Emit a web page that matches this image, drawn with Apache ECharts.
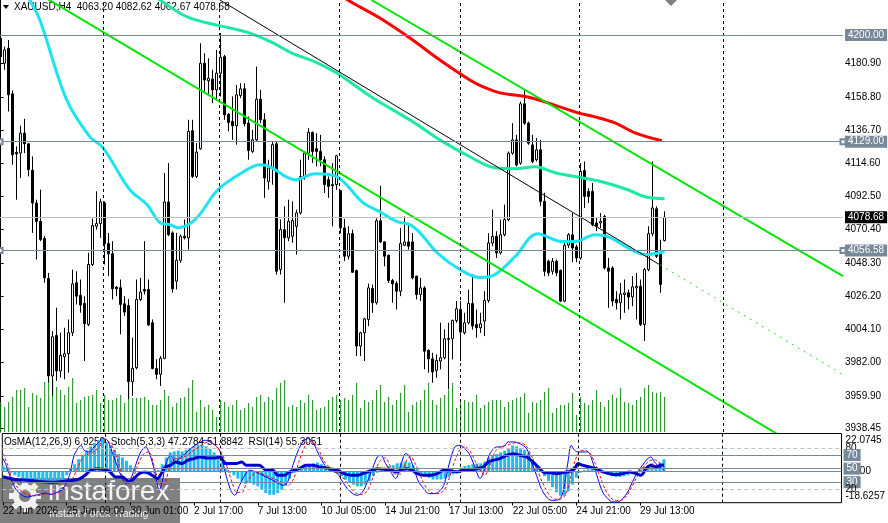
<!DOCTYPE html>
<html>
<head>
<meta charset="utf-8">
<title>XAUUSD,H4</title>
<script src="https://cdn.jsdelivr.net/npm/echarts@6/dist/echarts.min.js"></script>
<style>
  html, body { margin: 0; padding: 0; background: #fff; }
  #chart { width: 888px; height: 523px; }
</style>
</head>
<body>
<div id="chart"></div>
<script>
// H4 candles, one entry per bar (bar 0 = 22 Jun 17:00)
const opens = [
  4197.8, 4181.2, 4191.2, 4160.8, 4121.9, 4121.4, 4134.7, 4127.6, 4110.0, 4088.2,
  4076.0, 4064.5, 4038.0, 3973.1, 4000.0, 3976.4, 3985.9, 3987.9, 4001.9, 4035.1,
  4026.7, 4021.4, 4007.4, 4047.3, 4072.7, 4074.5, 4088.2, 4061.2, 4054.4, 4032.2,
  4031.8, 4021.1, 4020.0, 3969.3, 3978.6, 4024.0, 4030.7, 4030.7, 4008.5, 3978.0,
  3974.2, 3984.8, 4088.9, 4068.3, 4036.2, 4050.1, 4066.1, 4065.0, 4136.3, 4105.9,
  4124.3, 4181.2, 4169.5, 4170.6, 4163.5, 4174.6, 4185.6, 4147.3, 4142.5, 4139.6,
  4159.7, 4164.2, 4141.4, 4122.5, 4130.3, 4157.3, 4143.6, 4102.6, 4111.5, 4127.6,
  4043.9, 4070.5, 4065.0, 4066.1, 4072.7, 4081.6, 4105.9, 4121.4, 4135.2, 4124.3,
  4122.5, 4117.0, 4103.7, 4100.4, 4100.4, 4096.4, 4071.6, 4052.8, 4067.8, 4043.2,
  3993.0, 4001.8, 4010.7, 4031.3, 4021.8, 4076.4, 4062.3, 4053.4, 4036.6, 4034.6,
  4029.5, 4060.1, 4062.3, 4062.3, 4039.5, 4027.3, 4031.7, 3990.1, 3984.5, 3976.8,
  3983.0, 3985.2, 3997.4, 3997.9, 4010.0, 4017.3, 4001.8, 4008.5, 4021.3, 4007.4,
  4005.2, 4009.6, 4023.3, 4061.6, 4066.0, 4055.0, 4067.1, 4077.1, 4121.4, 4130.2,
  4114.7, 4154.2, 4141.3, 4126.9, 4117.0, 4123.6, 4089.3, 4049.4, 4042.8, 4049.4,
  4043.4, 4022.9, 4060.1, 4067.1, 4059.0, 4051.6, 4109.9, 4095.9, 4095.9, 4074.9,
  4074.9, 4079.3, 4045.0, 4045.0, 4024.0, 4021.8, 4027.3, 4028.4, 4025.7, 4031.7,
  4032.8, 4007.4, 4043.9, 4067.8, 4084.4, 4055.0, 4063.20
];
const closes = [
  4185.6, 4190.1, 4160.2, 4120.3, 4120.8, 4134.7, 4127.6, 4110.4, 4088.2, 4076.0,
  4063.9, 4038.4, 3973.1, 3999.2, 3976.4, 3986.8, 3987.9, 4001.9, 4034.4, 4026.2,
  4020.3, 4007.9, 4047.3, 4073.2, 4074.5, 4088.9, 4061.2, 4054.4, 4031.1, 4031.1,
  4020.7, 4015.6, 3969.3, 3978.2, 4024.0, 4028.9, 4029.6, 4007.0, 3978.0, 3974.2,
  3984.8, 4088.9, 4067.2, 4031.1, 4050.1, 4066.1, 4065.0, 4135.8, 4105.9, 4122.1,
  4181.2, 4170.1, 4171.3, 4163.5, 4174.6, 4185.2, 4146.9, 4141.8, 4139.6, 4160.2,
  4164.2, 4140.9, 4123.2, 4130.3, 4157.3, 4143.6, 4104.8, 4111.5, 4127.0, 4042.8,
  4070.5, 4065.0, 4076.0, 4076.5, 4081.6, 4105.9, 4121.4, 4135.2, 4122.5, 4122.5,
  4117.0, 4100.4, 4099.3, 4099.7, 4119.6, 4071.6, 4052.8, 4067.8, 4042.1, 3993.0,
  4001.8, 4011.1, 4031.7, 4021.8, 4076.4, 4062.3, 4052.8, 4036.6, 4034.4, 4029.5,
  4061.2, 4062.3, 4059.4, 4038.4, 4027.3, 4031.7, 3989.6, 3984.5, 3975.7, 3983.4,
  3985.2, 3997.9, 3998.1, 4010.0, 4017.8, 4002.3, 4008.5, 4021.3, 4006.3, 4005.2,
  4007.8, 4023.3, 4061.6, 4066.0, 4055.0, 4067.1, 4077.1, 4121.4, 4130.2, 4113.6,
  4154.2, 4141.3, 4128.0, 4115.8, 4123.6, 4089.3, 4042.8, 4041.7, 4049.4, 4041.7,
  4022.9, 4060.1, 4067.1, 4058.3, 4051.6, 4109.2, 4092.6, 4092.6, 4073.8, 4072.7,
  4076.0, 4045.0, 4042.8, 4022.9, 4021.8, 4027.7, 4028.4, 4025.7, 4032.4, 4032.8,
  4007.4, 4043.9, 4067.8, 4084.9, 4052.8, 4034.0, 4078.68
];
const lows = [
  4181.0, 4176.8, 4149.1, 4113.7, 4090.4, 4104.8, 4121.4, 4105.9, 4068.3, 4050.6,
  4062.8, 4035.1, 3968.7, 3959.8, 3969.8, 3972.0, 3970.9, 3975.3, 3999.7, 4020.7,
  4015.2, 3983.1, 4006.3, 4046.2, 4070.5, 4065.0, 4047.3, 4039.5, 4024.0, 4026.2,
  4000.8, 4013.0, 3957.6, 3959.8, 3977.5, 4022.9, 4027.3, 4006.3, 3977.5, 3970.9,
  3966.5, 3984.2, 4066.1, 4028.5, 4030.7, 4048.4, 4063.9, 4057.2, 4104.8, 4104.8,
  4123.7, 4162.4, 4160.2, 4154.6, 4156.9, 4159.1, 4143.6, 4135.8, 4130.3, 4127.0,
  4158.0, 4139.1, 4117.0, 4121.4, 4129.2, 4141.4, 4091.6, 4097.1, 4100.4, 4040.6,
  4040.6, 4021.8, 4062.8, 4061.7, 4053.9, 4080.5, 4103.7, 4117.0, 4114.8, 4112.6,
  4112.6, 4094.9, 4091.6, 4072.7, 4097.0, 4068.0, 4049.5, 4050.6, 4041.7, 3986.3,
  3986.3, 3983.0, 4006.3, 4015.1, 4020.6, 4061.6, 4046.1, 4035.0, 4021.8, 4017.3,
  4026.2, 4059.4, 4057.2, 4037.3, 4024.0, 4022.9, 3977.5, 3975.3, 3968.6, 3971.9,
  3977.5, 3984.1, 3964.2, 3984.1, 4008.5, 3983.0, 4000.7, 4007.4, 4004.0, 3998.5,
  4001.8, 3999.6, 4021.8, 4059.4, 4051.6, 4053.9, 4066.0, 4076.0, 4120.3, 4112.5,
  4113.6, 4140.2, 4126.9, 4114.7, 4115.8, 4086.0, 4039.5, 4039.5, 4040.6, 4039.5,
  4022.2, 4022.2, 4058.3, 4048.8, 4048.8, 4050.5, 4084.9, 4088.2, 4072.7, 4069.4,
  4071.6, 4043.9, 4018.4, 4019.5, 4017.3, 4010.7, 4015.1, 4017.3, 4019.5, 4010.7,
  4006.3, 3996.3, 4042.8, 4066.0, 4051.6, 4028.4, 4062.67
];
const highs = [
  4199.0, 4192.3, 4196.7, 4163.1, 4125.9, 4139.6, 4144.2, 4128.1, 4119.2, 4090.4,
  4097.1, 4066.1, 4041.7, 4003.0, 4018.5, 4001.9, 4005.2, 4010.7, 4043.9, 4042.8,
  4037.3, 4026.2, 4055.0, 4077.8, 4096.0, 4091.1, 4089.3, 4068.3, 4062.8, 4032.9,
  4037.3, 4026.2, 4024.4, 3998.6, 4037.3, 4038.4, 4062.8, 4037.3, 4010.7, 3984.2,
  3986.4, 4108.2, 4114.8, 4069.4, 4068.3, 4067.2, 4077.2, 4143.6, 4143.6, 4128.1,
  4194.5, 4187.9, 4184.5, 4176.8, 4190.1, 4201.3, 4186.8, 4148.0, 4159.1, 4166.8,
  4167.9, 4167.9, 4145.8, 4136.9, 4179.0, 4163.5, 4148.0, 4117.0, 4129.2, 4129.2,
  4077.2, 4086.0, 4090.4, 4089.3, 4083.8, 4117.0, 4122.5, 4138.0, 4135.8, 4134.7,
  4133.6, 4119.2, 4105.9, 4114.7, 4120.3, 4097.0, 4077.6, 4072.7, 4070.5, 4043.9,
  4002.5, 4011.8, 4034.6, 4033.9, 4078.0, 4099.7, 4062.7, 4053.9, 4037.7, 4036.2,
  4071.6, 4079.3, 4074.9, 4068.2, 4039.9, 4038.4, 4032.8, 3990.8, 3988.5, 3987.4,
  4008.5, 4004.1, 4008.5, 4010.7, 4022.9, 4022.9, 4015.1, 4030.6, 4040.6, 4017.3,
  4015.1, 4029.5, 4068.2, 4083.8, 4069.4, 4077.1, 4087.1, 4122.5, 4141.3, 4133.6,
  4155.7, 4163.5, 4142.4, 4133.6, 4131.4, 4130.2, 4095.0, 4050.5, 4051.6, 4050.5,
  4043.9, 4061.6, 4068.2, 4081.5, 4060.5, 4114.7, 4115.8, 4098.0, 4101.5, 4078.2,
  4081.5, 4080.4, 4051.6, 4046.1, 4029.5, 4035.0, 4037.3, 4030.6, 4039.5, 4041.7,
  4037.3, 4045.0, 4072.7, 4115.8, 4086.0, 4063.8, 4082.62
];
// tick volume (thousands)
const volumes = [
  30, 25, 30, 35, 42, 42, 44, 25, 39, 37, 34, 50, 54, 53, 45, 42, 37, 45, 54, 29,
  32, 35, 36, 37, 42, 29, 37, 32, 32, 34, 37, 29, 49, 34, 34, 34, 35, 32, 27, 27,
  32, 42, 36, 25, 29, 34, 35, 44, 52, 20, 32, 25, 27, 22, 15, 32, 30, 25, 27, 32,
  22, 24, 29, 25, 35, 37, 30, 35, 32, 44, 49, 52, 25, 27, 25, 32, 29, 37, 32, 22,
  24, 25, 32, 35, 37, 32, 34, 32, 37, 49, 24, 32, 30, 32, 42, 47, 30, 35, 27, 32,
  39, 47, 20, 27, 30, 32, 42, 49, 32, 27, 34, 37, 42, 49, 24, 30, 32, 30, 30, 37,
  24, 27, 30, 32, 32, 32, 25, 30, 32, 34, 35, 39, 19, 30, 29, 32, 40, 44, 19, 24,
  27, 27, 29, 39, 17, 35, 29, 27, 32, 42, 30, 25, 32, 37, 34, 44, 30, 29, 27, 32,
  35, 44, 47, 40, 39, 40, 35
];

// moving averages: [bar, price]
const maFast = [
  [0, 4262], [7.3, 4223.3], [9.8, 4210], [16.5, 4156.8], [22.3, 4132.2], [25.6, 4124.9],
  [32.3, 4097], [36.6, 4087.1], [39.8, 4075.1], [42.3, 4073.8], [44.3, 4071.8], [48.6, 4077.1],
  [54.3, 4097], [60.3, 4108.3], [64.8, 4113.6], [67.3, 4112.3], [73.6, 4103.7], [78.6, 4107.7],
  [83.6, 4106.3], [90.6, 4088.4], [94.8, 4082.4], [99.1, 4075.8], [102.3, 4073.8], [104.8, 4068.5],
  [109.1, 4055.2], [114.8, 4043.9], [119.8, 4038.6], [123.6, 4040.6], [128.6, 4052.5], [134.3, 4067.8],
  [140.3, 4062.5], [143.6, 4062.5], [148.6, 4067.1], [151.8, 4065.8], [158.6, 4055.8], [161.1, 4053.9],
  [166, 4055.8]
];
const maMid = [
  [30, 4240], [39.8, 4223.3], [46.6, 4212], [54.1, 4206.6], [62.3, 4201.3], [68.1, 4194.7],
  [72.8, 4188], [78.6, 4182.1], [83.6, 4175.4], [86.6, 4170.1], [93.1, 4158.1], [103.1, 4142.2],
  [109.8, 4130.2], [117.3, 4119], [123.6, 4111.6], [128.6, 4111], [133.6, 4112.3], [138.6, 4108.3],
  [145.3, 4105], [150.3, 4102.3], [156.8, 4097], [161.1, 4092.4], [166, 4091.1]
];
const maSlow = [
  [80, 4236], [86.8, 4223.3], [94.8, 4211.3], [102.3, 4198.0], [109.8, 4183.4], [117.3, 4170.1],
  [120.6, 4165.5], [124.8, 4161.5], [131.8, 4158.8], [136.8, 4154.8], [144.3, 4148.2], [148.6, 4145.5],
  [153.6, 4141.5], [158.6, 4134.9], [165.3, 4129.6]
];

// drawn trend lines: [bar, price] end points
const trendLine = [[54.8, 4223.3], [164.8, 4047.1]];
const trendRay = [[164.8, 4047.1], [210.6, 3973.9]];
const channelLow = [[0, 4242.6], [200, 3925.2]];
const channelHigh = [[92.7, 4223.3], [210.6, 4039.6]];
const topLevel = 4200.00;
const levels = [4129.00, 4056.58];

// OsMA(12,26,9), one value per bar
const osma = [
  3, 2, -1, -2.5, -3.5, -4.5, -5, -5.5, -6, -6.5, -6.5, -7, -7, -6.5, -6, -5, -2.5,
  1.5, 4, 7, 9.5, 12, 14.5, 16.5, 18, 18.5, 17, 15, 12.5, 10, 8, 6, 3.5, 1.5,
  -0.5, -1.5, -2, -1.5, -1, 0.5,
  4, 8, 11, 11.5, 12, 11.5, 12.5, 13.5, 14.5, 15.5, 15.5, 14.5, 13, 11, 8, 5,
  1, -1, -2.5, -4.5, -6, -7.5, -7, -8, -9, -11, -13, -14, -14, -13, -11, -8.5, -4.5, -1,
  0.5, 1.5, 2.5, 3.5, 4.5, 5, 4, 2.5, 1.5, 0.5,
  -1.5, -3, -5, -6.5, -8, -9, -9, -8, -6, -3, -1,
  1, 2, 3, 3.5, 4.5, 5, 5.5, 5, 3.5, 1.5,
  -1.5, -3, -4, -5, -5, -5, -4.5, -3.5, -2,
  0.5, 2, 3, 3.5, 4, 4.5, 4.5, 5.5, 8, 9, 10, 11, 12, 13.5, 15, 14.5, 13.5, 12.5, 10.5, 7, 3.5, 1,
  -3, -6, -9.5, -12.5, -14.5, -14.5, -12, -8, -4, -1,
  0.5, 1, 1.5, 1, 0.5,
  -1, -2, -3, -3.5, -3.5, -3, -2.5, -1.5, -0.5,
  1, 2.5, 3.5, 4.5, 3.5, 5, 6.9259
];
// Stoch(5,3,3) main and signal, RSI(14): [bar, value]
const stochMain = [
  [0, 65], [0.8, 55], [1.7, 40], [3, 22], [4.5, 12], [6, 8], [7.5, 10], [9, 12], [10.5, 14], [12, 12],
  [13.5, 15], [15, 20], [16.7, 40], [17.9, 70], [19.6, 84], [20.4, 77], [21.7, 74.6], [22.9, 82],
  [24.2, 89.4], [25, 94.3], [26.2, 92], [27.1, 79.5], [28.3, 59.9], [29.6, 40.2], [30.8, 27.9],
  [32.1, 35.3], [33.3, 55], [34.6, 74.6], [35.8, 82], [37.1, 67.2], [38.3, 40.2], [39.2, 18.1],
  [40, 30.4], [40.8, 55], [42.1, 69.7], [43.3, 59.9], [44.6, 67], [45.8, 72.1], [47.1, 79.5],
  [48.3, 84.4], [49.6, 89.4], [50.8, 91.8], [52.1, 89.4], [53.3, 84.4], [54.6, 74.6], [55.8, 45.1],
  [57.2, 18], [58.2, 10.7], [59.4, 25.4], [60.7, 40.2], [61.9, 47.6], [63.6, 45], [65.3, 40],
  [66.9, 35.3], [68.6, 30.4], [70.3, 25.4], [71.5, 30.4], [72.8, 55], [74, 74.6], [75.3, 89.4],
  [76.5, 94.3], [77.8, 89.4], [79, 74.6], [80.3, 59.9], [81.5, 50], [82.8, 46], [84, 42.6],
  [85.3, 30.4], [86.5, 20.5], [87.8, 13.2], [89, 10.7], [90.3, 15.6], [91.5, 30.4], [92.8, 50],
  [94, 67.2], [94.9, 69.7], [96.1, 57.4], [97.4, 45.1], [98.6, 35.3], [99.9, 55], [101.1, 72.1],
  [101.9, 70], [103.2, 50], [104.4, 30.4], [105.7, 20.5], [106.9, 13.2], [108.2, 13.2], [109.4, 15.6],
  [110.7, 25.4], [112.2, 60], [113.5, 82], [114.8, 84.4], [116, 79.5], [117.3, 69.7], [118.5, 52.5],
  [119.8, 35.3], [121, 50], [122.3, 72.1], [124, 82], [125.6, 82], [126.9, 89.4], [128.1, 89.4],
  [129.8, 86.9], [131.5, 79.5], [132.7, 59.9], [134, 40.2], [135.2, 20.5], [136.5, 8.2], [137.7, 3.3],
  [139, 3.3], [140.2, 8.2], [141, 25.4], [141.9, 59.9], [142.7, 84.4], [143.6, 77], [144.4, 74.6],
  [145.6, 74.6], [146.9, 74.6], [148.1, 59.9], [149.4, 35.3], [150.6, 15.6], [151.9, 5.8], [153.1, 0.9],
  [154.4, 0.9], [155.6, 5.8], [156.9, 15.6], [158.1, 30.4], [159.4, 45.1], [160.6, 55], [161.9, 64.8],
  [162.7, 67.2], [163.6, 59.9], [164.4, 55], [165.6, 50], [166, 47.2784]
];
const stochSignal = [
  [0, 72], [1.2, 55], [2.5, 30.4], [3.7, 22], [5, 15], [6.5, 11], [8, 10], [9.5, 11], [11, 13],
  [12.5, 13], [14, 15], [15.5, 22], [16.5, 28], [17.5, 35.3], [19.2, 57.4], [20.4, 69.7], [21.7, 72.1],
  [23.3, 77], [25, 86.9], [26.5, 89.4], [27.9, 77], [29.2, 55], [30.4, 32.8], [31.7, 27.9], [32.9, 40.2],
  [34.2, 59.9], [35.4, 72.1], [36.7, 74.6], [37.9, 55], [39.2, 30.4], [40.4, 25.4], [41.7, 50],
  [42.9, 64.8], [44.2, 64.8], [45.4, 67.2], [46.7, 72.1], [47.9, 77], [49.2, 82], [50.4, 86.9],
  [51.7, 89.4], [52.9, 86.9], [54.2, 79.5], [55.4, 67.2], [56.7, 45.1], [57.5, 30], [58.7, 15],
  [60, 15], [61.2, 30], [62.5, 40], [64, 44], [66, 40], [68, 35], [70, 30], [71.5, 25], [73, 35],
  [74.3, 60], [75.6, 80], [76.8, 90], [78, 88], [79.3, 78], [80.5, 62], [82, 52], [83.3, 46],
  [84.6, 42], [86, 32], [87.3, 22], [88.6, 14], [89.8, 12], [91, 14], [92.3, 27], [93.5, 47],
  [94.8, 62], [96, 66], [97.2, 55], [98.5, 42], [99.8, 42], [101, 58], [102.3, 68], [103.5, 58],
  [104.8, 40], [106, 25], [107.3, 16], [108.5, 13], [109.8, 14], [111, 20], [112.3, 40], [113.5, 62],
  [114.8, 78], [116, 82], [117.3, 76], [118.5, 62], [119.8, 48], [121, 40], [122.3, 55], [123.5, 74],
  [124.8, 82], [126, 84], [127.3, 86], [128.5, 88], [130, 88], [131.3, 84], [132.5, 72], [133.8, 54],
  [135, 36], [136.3, 20], [137.5, 9], [138.8, 5], [140, 5], [141.3, 12], [142.5, 35], [143.7, 62],
  [145, 76], [146.2, 77], [147.5, 72], [148.7, 58], [150, 38], [151.2, 20], [152.5, 8], [153.7, 3],
  [155, 3], [156.2, 7], [157.5, 18], [158.7, 32], [160, 45], [161.2, 55], [162.5, 62], [163.7, 63],
  [165, 58], [166, 51.8842]
];
const rsi = [
  [0, 38], [3, 34], [6, 33], [9, 31], [12, 30], [15, 31], [16.7, 32], [19.2, 35], [20.8, 41],
  [22, 47.6], [23.8, 50], [25, 49], [26.7, 46], [28.3, 37.7], [30, 37.7], [31.7, 30.4], [32.9, 35.3],
  [34.2, 42.6], [35.8, 45.1], [37.5, 40], [38.8, 35.3], [40, 45.1], [40.8, 52.5], [42.1, 55],
  [43.3, 59.9], [45, 57.4], [46.3, 62.3], [47.9, 64.8], [49.6, 67.2], [51.3, 65.7], [52.9, 65.7],
  [54.6, 67.2], [55.8, 57.4], [57.1, 57.4], [58.6, 57.4], [59.9, 59.9], [61.1, 55], [62.8, 55],
  [64.4, 55], [66.1, 47.6], [67.8, 47.6], [69, 40.2], [70.7, 40.2], [71.9, 45.1], [73.2, 47.6],
  [74.4, 50], [76.1, 55], [77.8, 55], [79.4, 52.5], [81.1, 51], [82.8, 49], [84, 47.6], [85.7, 42.6],
  [87.4, 40.2], [89, 40.2], [90.3, 42.6], [91.5, 45.1], [92.8, 47.6], [94, 50], [95.7, 49], [97.4, 47.6],
  [99, 45.1], [100.3, 49], [101.5, 50], [102.8, 47.6], [104, 42.6], [105.7, 40.2], [107.4, 40.2],
  [109, 42.6], [110.7, 47.6], [112.4, 47], [114, 45.1], [115.6, 47.6], [117.3, 47.6], [119, 50],
  [120.6, 52.5], [121.9, 59.9], [123.1, 62.3], [124.8, 64.8], [126.5, 69.7], [128.1, 72.1],
  [129.8, 69.7], [131.5, 67.2], [133.1, 59.9], [134.8, 50], [136, 44.1], [137.3, 44.1], [139, 42.6],
  [140.6, 44.1], [142.3, 46], [143.6, 50], [144.4, 57.4], [145.6, 55], [147.3, 52.5], [149, 50],
  [150.6, 45.1], [152.3, 42.6], [154, 41.2], [155.6, 42.6], [157.3, 45.1], [159, 42.6], [160.2, 40.2],
  [161.5, 50], [162.7, 55], [164, 52.5], [165.2, 55], [166, 55.3051]
];

// axes
const priceTicks = [4180.90, 4158.80, 4136.70, 4114.60, 4092.50, 4070.40, 4048.30,
  4026.20, 4004.10, 3982.00, 3959.90, 3938.45];
const tickBars = [0, 16, 32, 48, 64, 80, 96, 112, 128, 144, 160];
const tickLabels = ["22 Jun 2026", "25 Jun 09:00", "30 Jun 01:00", "2 Jul 17:00", "7 Jul 13:00",
  "10 Jul 05:00", "14 Jul 21:00", "17 Jul 13:00", "22 Jul 05:00", "24 Jul 21:00", "29 Jul 13:00"];
const weekBars = [25.6, 54.6, 84.6, 114.8, 144.6, 180.6];
const oscLabels = [22.0745, 0, -18.6257];

const FONT = "'Liberation Sans', Arial, sans-serif";
const SLATE = "#778899";
const last = opens.length - 1;

const candles = opens.map((o, i) => [i, o, closes[i], lows[i], highs[i]]);
const vols = volumes.map((v, i) => [i, v]);
const hist = osma.map((v, i) => [i, v]);
const lastOf = (arr) => arr[arr.length - 1][1];

const boxLabel = (bg, text) => ({
  show: true, position: "end", distance: 2, formatter: text,
  color: "#fff", backgroundColor: bg, padding: [1, 3, 0, 3],
  fontSize: 10, fontFamily: FONT, lineHeight: 11
});

const weekLines = {
  silent: true, symbol: "none", animation: false,
  label: { show: false },
  lineStyle: { color: "#000", type: [3, 3], width: 1 },
  data: weekBars.map((b) => ({ xAxis: b }))
};

const oscLevel = (v, dashed) => ({
  yAxis: v,
  lineStyle: dashed ? { color: "#c0c0c0", type: [4, 3], width: 1 }
                    : { color: SLATE, type: "solid", width: 1 },
  label: dashed
    ? { show: true, position: "end", distance: 4, formatter: String(v), color: "#000",
        fontSize: 10, fontFamily: FONT }
    : boxLabel(SLATE, String(v))
});

const chart = echarts.init(document.getElementById("chart"));

const option = {
  animation: false,
  textStyle: { fontFamily: FONT },
  grid: [
    { left: 0, top: 0, width: 843, height: 432 },
    { left: 0, top: 433.5, width: 843, height: 69.2, show: true,
      borderColor: "#000", borderWidth: 1, backgroundColor: "transparent" }
  ],
  xAxis: [
    { gridIndex: 0, type: "value", min: -0.175, max: 210.6, show: false },
    {
      gridIndex: 1, type: "value", min: -0.175, max: 210.6,
      axisLine: { show: false },
      axisTick: { show: true, length: 3, customValues: tickBars, lineStyle: { color: "#000" } },
      axisLabel: {
        customValues: tickBars, align: "left", margin: 4, color: "#000", fontSize: 10,
        fontFamily: FONT, formatter: (v) => tickLabels[tickBars.indexOf(v)]
      },
      splitLine: { show: false }
    }
  ],
  yAxis: [
    {
      gridIndex: 0, type: "value", position: "right", min: 3935.8, max: 4223.3,
      axisLine: { show: true, lineStyle: { color: "#000", width: 1 } },
      axisTick: { show: true, length: 3, customValues: priceTicks, lineStyle: { color: "#000" } },
      axisLabel: {
        customValues: priceTicks, margin: 2, color: "#000", fontSize: 10, fontFamily: FONT,
        formatter: (v) => v.toFixed(2)
      },
      splitLine: { show: false }
    },
    { gridIndex: 0, type: "value", min: 0, max: 432, show: false },
    { gridIndex: 1, type: "value", min: -0.2, max: 101.8, show: false },
    {
      gridIndex: 1, type: "value", position: "right", min: -18.6257, max: 22.0745,
      axisLine: { show: false }, axisTick: { show: false }, splitLine: { show: false },
      axisLabel: {
        customValues: oscLabels, margin: 4, color: "#000", fontSize: 10, fontFamily: FONT,
        formatter: (v) => v === 0 ? "{m|0.00}" : v > 0 ? "{t|" + v.toFixed(4) + "}" : "{b|" + v.toFixed(4) + "}",
        rich: {
          t: { padding: [14, 0, 0, 0], fontSize: 10, color: "#000", fontFamily: FONT },
          b: { padding: [0, 0, 12, 0], fontSize: 10, color: "#000", fontFamily: FONT },
          m: { padding: [0, 0, 0, 6], fontSize: 10, color: "#000", fontFamily: FONT }
        }
      }
    }
  ],
  series: [
    {
      name: "Volumes", type: "bar", xAxisIndex: 0, yAxisIndex: 1, data: vols,
      barWidth: 1, itemStyle: { color: "#0a8a0a" }, silent: true,
      markLine: weekLines
    },
    {
      name: "XAUUSD", type: "candlestick", xAxisIndex: 0, yAxisIndex: 0, data: candles,
      barWidth: 3,
      itemStyle: { color: "#fff", color0: "#000", borderColor: "#000", borderColor0: "#000", borderWidth: 1 },
      markLine: {
        silent: true, animation: false, symbol: "none",
        data: [
          { yAxis: topLevel, lineStyle: { color: SLATE, type: "solid", width: 1 },
            label: boxLabel(SLATE, topLevel.toFixed(2)) },
          { yAxis: closes[last], lineStyle: { color: "#c0c0c0", type: "solid", width: 1 },
            label: boxLabel("#000", closes[last].toFixed(2)) }
        ]
      }
    },
    { name: "MA fast", type: "line", data: maFast, smooth: 0.35, showSymbol: false,
      lineStyle: { color: "#1ee4f2", width: 3 } },
    { name: "MA mid", type: "line", data: maMid, smooth: 0.35, showSymbol: false,
      lineStyle: { color: "#1ee8a6", width: 3 } },
    {
      name: "MA slow", type: "line", data: maSlow, smooth: 0.35, showSymbol: false,
      lineStyle: { color: "#ff0000", width: 3 },
      markLine: {
        silent: true, animation: false, symbol: ["emptyRect", "emptyRect"], symbolSize: 5,
        lineStyle: { color: SLATE, type: "solid", width: 1 },
        data: levels.map((p) => ({ yAxis: p, label: boxLabel(SLATE, p.toFixed(2)) }))
      }
    },
    { name: "trend", type: "line", data: trendLine, showSymbol: false,
      lineStyle: { color: "#000", width: 1 } },
    { name: "trend ray", type: "line", data: trendRay, showSymbol: false,
      lineStyle: { color: "#22dd22", width: 1, type: [2, 5] } },
    { name: "channel low", type: "line", data: channelLow, showSymbol: false,
      lineStyle: { color: "#00e600", width: 2 } },
    { name: "channel high", type: "line", data: channelHigh, showSymbol: false,
      lineStyle: { color: "#00e600", width: 2 } },
    {
      name: "OsMA", type: "bar", xAxisIndex: 1, yAxisIndex: 3, data: hist, barWidth: 3,
      itemStyle: { color: "#1ebcf0" },
      markLine: {
        silent: true, symbol: "none", animation: false, label: { show: false },
        lineStyle: { color: "#000", type: [3, 3], width: 1 },
        data: weekBars.map((b) => ({ xAxis: b })).concat([
          { yAxis: 0, lineStyle: { color: SLATE, type: "solid", width: 1 } }
        ])
      }
    },
    {
      name: "Stoch", type: "line", xAxisIndex: 1, yAxisIndex: 2, data: stochMain,
      smooth: 0.3, showSymbol: false, lineStyle: { color: "#0000ff", width: 1 },
      markLine: {
        silent: true, symbol: "none", animation: false,
        data: [oscLevel(80, true), oscLevel(70, false), oscLevel(50, false),
               oscLevel(30, false), oscLevel(20, true)]
      }
    },
    {
      name: "Signal", type: "line", xAxisIndex: 1, yAxisIndex: 2, data: stochSignal,
      smooth: 0.3, showSymbol: false, lineStyle: { color: "#ff0000", width: 1, type: [3, 2] }
    },
    {
      name: "RSI", type: "line", xAxisIndex: 1, yAxisIndex: 2, data: rsi,
      smooth: 0.3, showSymbol: false, lineStyle: { color: "#0000cd", width: 3 }
    }
  ],
  graphic: [
    { type: "polygon", shape: { points: [[3, 5], [9, 5], [6, 9]] }, style: { fill: "#000" } },
    {
      type: "text", left: 14, top: 2,
      style: {
        text: "XAUUSD,H4  " + opens[last].toFixed(2) + " " + highs[last].toFixed(2) + " " +
              lows[last].toFixed(2) + " " + closes[last].toFixed(2),
        fill: "#000", font: "10px " + FONT
      }
    },
    { type: "polygon", shape: { points: [[665, 0], [677, 0], [671, 6]] }, style: { fill: "#808080" } },
    {
      type: "text", left: 4, top: 437,
      style: {
        text: "OsMA(12,26,9) " + osma[last].toFixed(4) + "  Stoch(5,3,3) " +
              lastOf(stochMain).toFixed(4) + " " + lastOf(stochSignal).toFixed(4) +
              "  RSI(14) " + lastOf(rsi).toFixed(4),
        fill: "#000", font: "10px " + FONT
      }
    },
    {
      type: "group", left: 0, top: 478,
      children: [
        { type: "rect", shape: { x: 0, y: 0, width: 180, height: 45 },
          style: { fill: "rgba(96,96,96,0.8)" } },
        { type: "ring", shape: { cx: 25, cy: 18, r: 12, r0: 6 }, style: { fill: "#f2f2f2" } }
      ].concat([0, 45, 90, 135, 180, 225, 270, 315].map((a) => ({
        type: "rect", x: 25, y: 18, rotation: a * Math.PI / 180,
        shape: { x: -3, y: -16, width: 6, height: 6 }, style: { fill: "#f2f2f2" }
      }))).concat([
        { type: "text", x: 48, y: 0,
          style: { text: "instaforex", fill: "#f4f4f4", font: "28px " + FONT } },
        { type: "text", x: 49, y: 31,
          style: { text: "Instant Forex Trading", fill: "#f0f0f0", font: "10.5px " + FONT } }
      ])
    }
  ]
};

chart.setOption(option);
</script>
</body>
</html>
